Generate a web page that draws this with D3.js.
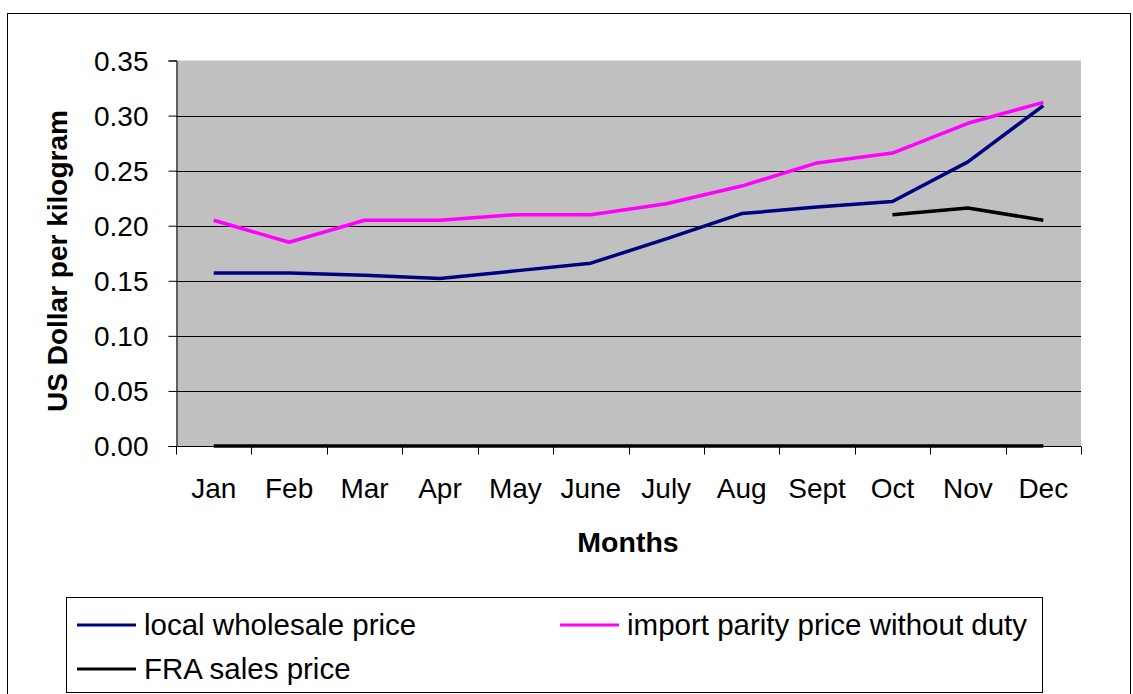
<!DOCTYPE html>
<html>
<head>
<meta charset="utf-8">
<script src="https://cdn.jsdelivr.net/npm/d3@7"></script>
<style>
  body { margin: 0; background: #fff; }
  text { font-family: "Liberation Sans", Arial, sans-serif; fill: #000; }
</style>
</head>
<body>
<svg id="chart" width="1133" height="694"></svg>
<script>
const months = ["Jan", "Feb", "Mar", "Apr", "May", "June", "July", "Aug", "Sept", "Oct", "Nov", "Dec"];
const localWholesale = [0.157, 0.157, 0.155, 0.152, 0.159, 0.166, 0.188, 0.211, 0.217, 0.222, 0.258, 0.309];
const importParity = [0.205, 0.185, 0.205, 0.205, 0.210, 0.210, 0.220, 0.236, 0.257, 0.266, 0.293, 0.312];
const fraSales = [null, null, null, null, null, null, null, null, null, 0.210, 0.216, 0.205];
const zeroSeries = [0, 0, 0, 0, 0, 0, 0, 0, 0, 0, 0, 0];
const yTicks = [0, 0.05, 0.10, 0.15, 0.20, 0.25, 0.30, 0.35];

const svg = d3.select("#chart");

// outer chart border
svg.append("rect")
  .attr("x", 7.5).attr("y", 13.5)
  .attr("width", 1123).attr("height", 700)
  .attr("fill", "none").attr("stroke", "#000").attr("stroke-width", 1);

const plot = { left: 176, top: 60.5, right: 1081, bottom: 446 };

const x = d3.scaleBand().domain(months).range([plot.left, plot.right]);
const y = d3.scaleLinear().domain([0, 0.35]).range([plot.bottom, plot.top]);

// plot area
svg.append("rect")
  .attr("x", plot.left).attr("y", plot.top)
  .attr("width", plot.right - plot.left).attr("height", plot.bottom - plot.top)
  .attr("fill", "#c0c0c0");

// gridlines
svg.append("g").selectAll("line")
  .data(yTicks.filter(d => d > 0 && d < 0.35))
  .enter().append("line")
  .attr("x1", plot.left).attr("x2", plot.right)
  .attr("y1", d => Math.round(y(d)) + 0.5).attr("y2", d => Math.round(y(d)) + 0.5)
  .attr("stroke", "#000").attr("stroke-width", 1);

// y axis
const yAxis = svg.append("g")
  .attr("transform", `translate(${plot.left + 0.5},0)`)
  .call(d3.axisLeft(y).tickValues(yTicks).tickFormat(d3.format(".2f")).tickSize(8).tickPadding(20));
yAxis.selectAll("text").style("font-size", "28px").attr("dy", "0.35em");
yAxis.selectAll("path, line").attr("stroke", "#000");

// x axis
const xAxis = svg.append("g")
  .attr("transform", `translate(0,${plot.bottom + 0.5})`)
  .call(d3.axisBottom(x).tickSize(0).tickPadding(32));
xAxis.select("path").attr("d", `M${plot.left},0H${plot.right}`).attr("stroke", "#000");
xAxis.selectAll("text").style("font-size", "28px");
const bounds = months.map(m => x(m)).concat([plot.right]);
xAxis.selectAll(".sep").data(bounds).enter().append("line")
  .attr("class", "sep")
  .attr("x1", d => Math.round(d) + 0.5).attr("x2", d => Math.round(d) + 0.5)
  .attr("y1", 0).attr("y2", 8)
  .attr("stroke", "#000");

// axis titles
svg.append("text")
  .attr("x", 628).attr("y", 552)
  .attr("text-anchor", "middle")
  .style("font-size", "28.5px").style("font-weight", "bold")
  .text("Months");

svg.append("text")
  .attr("transform", "translate(67,261) rotate(-90)")
  .attr("text-anchor", "middle")
  .style("font-size", "28px").style("font-weight", "bold")
  .text("US Dollar per kilogram");

// series
const line = d3.line()
  .defined(d => d.v !== null)
  .x(d => x(d.m) + x.bandwidth() / 2)
  .y(d => y(d.v));

const series = [
  { values: zeroSeries, color: "#000000" },
  { values: fraSales, color: "#000000" },
  { values: localWholesale, color: "#000080" },
  { values: importParity, color: "#ff00ff" }
];

series.forEach(s => {
  svg.append("path")
    .datum(s.values.map((v, i) => ({ m: months[i], v: v })))
    .attr("d", line)
    .attr("fill", "none")
    .attr("stroke", s.color)
    .attr("stroke-width", 3.5)
    .attr("stroke-linejoin", "round");
});

// legend
svg.append("rect")
  .attr("x", 66.5).attr("y", 597.5)
  .attr("width", 976).attr("height", 95)
  .attr("fill", "#fff").attr("stroke", "#000");

const legendItems = [
  { name: "local wholesale price", color: "#000080", x: 77, y: 625 },
  { name: "import parity price without duty", color: "#ff00ff", x: 560, y: 625 },
  { name: "FRA sales price", color: "#000000", x: 77, y: 669 }
];

const leg = svg.append("g").selectAll("g")
  .data(legendItems).enter().append("g")
  .attr("transform", d => `translate(${d.x},${d.y})`);
leg.append("line")
  .attr("x1", 0).attr("x2", 59).attr("y1", 0).attr("y2", 0)
  .attr("stroke", d => d.color).attr("stroke-width", 3);
leg.append("text")
  .attr("x", 67).attr("y", 0).attr("dy", "0.35em")
  .style("font-size", "29.5px")
  .text(d => d.name);
</script>
</body>
</html>
